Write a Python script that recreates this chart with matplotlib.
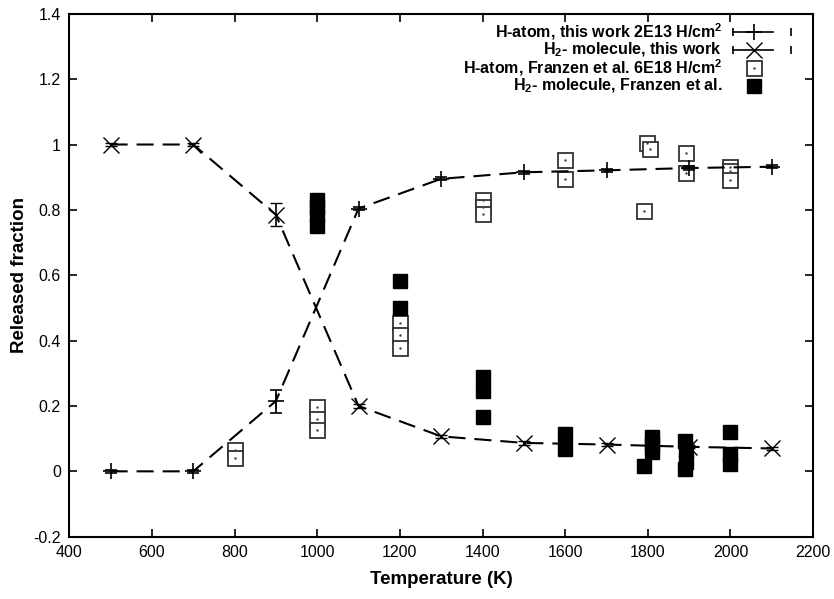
import matplotlib
matplotlib.use("Agg")
import matplotlib.pyplot as plt

plt.rcParams['font.family'] = ['Liberation Sans', 'DejaVu Sans']
plt.rcParams['mathtext.fontset'] = 'custom'
plt.rcParams['mathtext.bf'] = 'Liberation Sans:bold'
plt.rcParams['mathtext.rm'] = 'Liberation Sans:bold'
plt.rcParams['mathtext.default'] = 'bf'

# this work (dashed lines)
temp_work = [500, 700, 900, 1100, 1300, 1500, 1700, 1900, 2100]
h_atom = [0.0, 0.0, 0.215, 0.804, 0.895, 0.915, 0.921, 0.928, 0.932]
h_atom_err = [0.005, 0.005, 0.035, 0.005, 0.005, 0.005, 0.005, 0.005, 0.005]
h2_mol = [1.0, 1.0, 0.785, 0.200, 0.107, 0.087, 0.082, 0.075, 0.070]
h2_mol_err = [0.005, 0.005, 0.035, 0.005, 0.005, 0.005, 0.005, 0.005, 0.005]

# Franzen et al.
temp_fr_h = [800, 800, 1000, 1000, 1000, 1200, 1200, 1200, 1400, 1400, 1400,
             1600, 1600, 1798, 1806, 1791, 1893, 1893, 2000, 2000, 2000]
fr_h = [0.065, 0.042, 0.197, 0.159, 0.128, 0.455, 0.416, 0.376, 0.83, 0.81, 0.787,
        0.953, 0.895, 1.005, 0.985, 0.798, 0.975, 0.912, 0.93, 0.92, 0.892]
temp_fr_h2 = [1000, 1000, 1000, 1000, 1200, 1200, 1400, 1400, 1400,
              1600, 1600, 1810, 1810, 1810, 1790, 1890, 1893, 1893, 1890,
              2000, 2000, 2000]
fr_h2 = [0.83, 0.81, 0.785, 0.75, 0.582, 0.50, 0.29, 0.245, 0.165,
         0.115, 0.068, 0.105, 0.085, 0.06, 0.016, 0.093, 0.066, 0.03, 0.006,
         0.12, 0.052, 0.022]

labels = [
    r'H-atom, this work 2E13 H/cm$^2$',
    r'H$_2$- molecule, this work',
    r'H-atom, Franzen et al. 6E18 H/cm$^2$',
    r'H$_2$- molecule, Franzen et al.',
]

fig, ax = plt.subplots(figsize=(8.34, 5.99), dpi=100)
fig.subplots_adjust(left=0.083, right=0.975, top=0.977, bottom=0.104)

dash = (8.2, 4.3)
ax.errorbar(temp_work, h_atom, yerr=h_atom_err, color='black', lw=1.5,
            dashes=dash, marker='+', ms=12, mew=1.2, capsize=4, elinewidth=1.2, zorder=3)
ax.errorbar(temp_work, h2_mol, yerr=h2_mol_err, color='black', lw=1.5,
            dashes=dash, marker='x', ms=11, mew=1.0, capsize=4, elinewidth=1.2, zorder=3)

ax.plot(temp_fr_h, fr_h, ls='none', marker='s', ms=10.8, mfc='white',
        mec='#333333', mew=1.3, zorder=2)
ax.plot(temp_fr_h, fr_h, ls='none', marker='.', ms=1.5, color='#444444', zorder=2)
ax.plot(temp_fr_h2, fr_h2, ls='none', marker='s', ms=10.5, color='black', zorder=2)

ax.set_xlim(400, 2200)
ax.set_ylim(-0.2, 1.4)
ax.set_xticks(range(400, 2201, 200))
ax.set_yticks([-0.2, 0, 0.2, 0.4, 0.6, 0.8, 1, 1.2, 1.4])
ax.set_yticklabels(['-0.2', '0', '0.2', '0.4', '0.6', '0.8', '1', '1.2', '1.4'])
ax.tick_params(direction='in', length=6, width=1.2, top=True, right=True,
               labelsize=11.5, pad=6)
for s in ax.spines.values():
    s.set_linewidth(1.5)

ax.set_xlabel('Temperature (K)', fontsize=13.5, fontweight='bold', labelpad=8)
ax.set_ylabel('Released fraction', fontsize=13.5, fontweight='bold', labelpad=4)

# gnuplot-style key, text right aligned with samples on the right
tr = ax.transAxes
rows = [0.9656, 0.9312, 0.8968, 0.8624]
x_text, x_l0, x_l1, x_m, x_cap = 0.8777, 0.8925, 0.9462, 0.9207, 0.9700
for i, (lab, yr) in enumerate(zip(labels, rows)):
    ax.text(x_text, yr, lab, transform=tr, ha='right', va='center',
            fontsize=11.5, fontweight='bold')
    if i < 2:
        ax.plot([x_l0, x_l1], [yr, yr], transform=tr, color='black', lw=1.2,
                clip_on=False)
        ax.plot([x_l0, x_cap], [yr, yr], transform=tr, ls='none', marker='|',
                ms=6, mew=1.2, color='black', clip_on=False)
        ax.plot([x_m], [yr], transform=tr, ls='none',
                marker='+' if i == 0 else 'x', ms=12 if i == 0 else 11,
                mew=1.2 if i == 0 else 1.0, color='black', clip_on=False)
    elif i == 2:
        ax.plot([x_m], [yr], transform=tr, ls='none', marker='s', ms=10.8,
                mfc='white', mec='#333333', mew=1.3, clip_on=False)
        ax.plot([x_m], [yr], transform=tr, ls='none', marker='.', ms=1.5,
                color='#444444', clip_on=False)
    else:
        ax.plot([x_m], [yr], transform=tr, ls='none', marker='s', ms=10.5,
                color='black', clip_on=False)

fig.savefig('out.png', dpi=100)
